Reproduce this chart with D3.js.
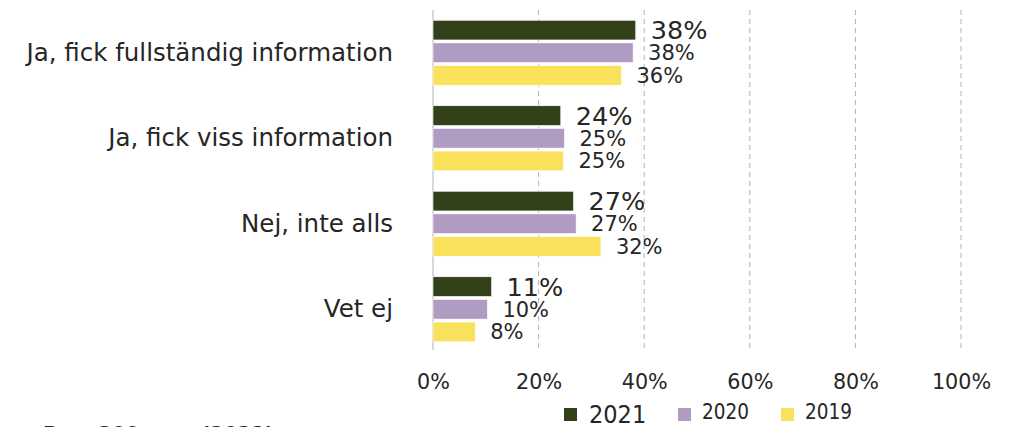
<!DOCTYPE html>
<html>
<head>
<meta charset="utf-8">
<script src="https://cdn.jsdelivr.net/npm/d3@7"></script>
<style>
  html, body { margin: 0; padding: 0; background: #fff; overflow: hidden; }
  svg { display: block; }
  text { font-family: "DejaVu Sans", sans-serif; fill: #262626; }
  text.cond { font-family: "DejaVu Sans Condensed", "DejaVu Sans", sans-serif; font-stretch: condensed; }
</style>
</head>
<body>
<script>
const categories = ["Ja, fick fullständig information", "Ja, fick viss information", "Nej, inte alls", "Vet ej"];
const seriesNames = ["2021", "2020", "2019"];
const values2021 = [38.4, 24.2, 26.6, 11.1];
const values2020 = [37.9, 24.9, 27.1, 10.3];
const values2019 = [35.7, 24.7, 31.8, 8.0];
const xTicks = [0, 20, 40, 60, 80, 100];
const colors = ["#33411a", "#b09bc2", "#f9e15c"];
const footnote = "Bas: 300 svar (2021)";

const seriesValues = [values2021, values2020, values2019];
const W = 1015, H = 427;
const svg = d3.select("body").append("svg").attr("width", W).attr("height", H);

const x = d3.scaleLinear().domain([0, 100]).range([433, 961]);
const y = d3.scaleBand().domain(categories).range([10, 352]).paddingInner(0.24).paddingOuter(0.12);
const ys = d3.scaleBand().domain(seriesNames).range([0, y.bandwidth()]).paddingInner(0.13);

// gridlines
svg.append("g").selectAll("line").data(xTicks.filter(d => d > 0)).join("line")
  .attr("x1", d => x(d)).attr("x2", d => x(d))
  .attr("y1", 10).attr("y2", 350)
  .attr("stroke", "#b3b3b3").attr("stroke-width", 1).attr("stroke-dasharray", "5,4");
svg.append("line").attr("x1", x(0)).attr("x2", x(0)).attr("y1", 10).attr("y2", 350)
  .attr("stroke", "#bfbfbf").attr("stroke-width", 1.2);

// x axis labels
const xAxis = d3.axisBottom(x).tickValues(xTicks).tickFormat(d => d + "%").tickSize(0).tickPadding(0);
const gx = svg.append("g").attr("transform", "translate(0,374)").call(xAxis);
gx.select(".domain").remove();
gx.selectAll("text").attr("font-size", 20.7).attr("dy", "0.72em").attr("fill", "#262626")
  .style("font-family", "\"DejaVu Sans\", sans-serif");

// category labels
const yAxis = d3.axisLeft(y).tickSize(0).tickPadding(40);
const gy = svg.append("g").attr("transform", `translate(${x(0)},0)`).call(yAxis);
gy.select(".domain").remove();
gy.selectAll("text").attr("font-size", 24.5).attr("fill", "#262626")
  .style("font-family", "\"DejaVu Sans\", sans-serif");

// bars
const groups = svg.append("g").selectAll("g").data(categories).join("g")
  .attr("transform", d => `translate(0,${y(d)})`);
seriesNames.forEach((s, si) => {
  groups.append("rect")
    .attr("x", x(0))
    .attr("y", ys(s))
    .attr("width", (d, i) => x(seriesValues[si][i]) - x(0))
    .attr("height", ys.bandwidth())
    .attr("fill", colors[si])
    .attr("stroke", "#ffffff").attr("stroke-width", 0.6);
  groups.append("text")
    .attr("x", (d, i) => x(seriesValues[si][i]) + 15)
    .attr("y", ys(s) + ys.bandwidth() / 2)
    .attr("dy", "0.36em")
    .attr("font-size", si === 0 ? 25.5 : 21)
    .text((d, i) => Math.round(seriesValues[si][i]) + "%");
});

// legend
const legendX = [564, 678, 781];
const legendSizes = [25, 20.5, 20.5];
const legendBase = [423, 419, 419];
const lg = svg.append("g").selectAll("g").data(seriesNames).join("g");
lg.append("rect").attr("x", (d, i) => legendX[i]).attr("y", 408).attr("width", 13).attr("height", 13)
  .attr("fill", (d, i) => colors[i]);
lg.append("text").attr("class", "cond").attr("x", (d, i) => legendX[i] + (i === 0 ? 25 : 24)).attr("y", (d, i) => legendBase[i])
  .attr("font-size", (d, i) => legendSizes[i]).text(d => d);

// cut-off footnote
svg.append("text").attr("class", "cond").attr("x", 43).attr("y", 442).attr("font-size", 22).attr("font-weight", "bold").text(footnote);
</script>
</body>
</html>
